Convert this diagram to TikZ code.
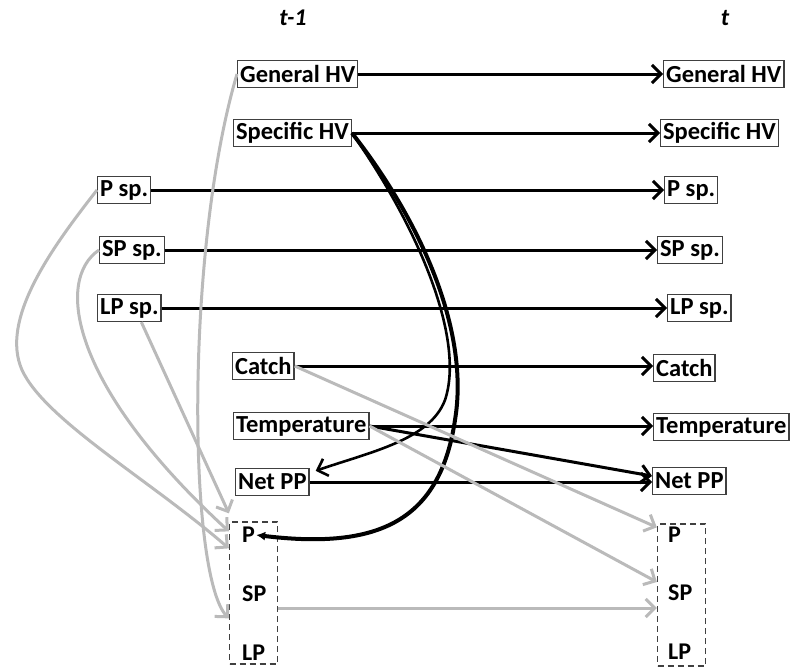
\documentclass[tikz,border=0pt]{standalone}
\usepackage{fontspec}
\setmainfont{Carlito}
\usetikzlibrary{arrows.meta,positioning}

\tikzset{
    var/.style={draw=black!75,line width=1.3pt,anchor=west,inner xsep=2.5pt,
        inner ysep=2pt,minimum height=27pt,
        font=\fontsize{24.5}{28}\selectfont\bfseries},
    slice/.style={draw=black!75,line width=1.3pt,dash pattern=on 6pt off 4pt,
        minimum width=48pt,minimum height=142pt,inner sep=0pt},
    pool/.style={anchor=west,inner sep=1pt,
        font=\fontsize{24}{28}\selectfont\bfseries},
    stamp/.style={font=\fontsize{24}{28}\selectfont\bfseries\itshape},
    link/.style={line width=3pt,-{Straight Barb[length=9pt,width=18pt]}},
    weak/.style={link,draw=black!27},
}

\begin{document}
\begin{tikzpicture}[x=1pt,y=-1pt]
    \useasboundingbox (0,0) rectangle (792,669);

    % time slices
    \node[stamp] (tprev) at (293,18) {t-1};
    \node[stamp] (tnow)  at (725,18) {t};

    % variables at t-1
    \node[var] (GHV-l)   at (237,74)  {General HV};
    \node[var] (SHV-l)   at (233,133) {Specific HV};
    \node[var] (Psp-l)   at (97,190)  {P sp.};
    \node[var] (SPsp-l)  at (99,250)  {SP sp.};
    \node[var] (LPsp-l)  at (97,308)  {LP sp.};
    \node[var] (Catch-l) at (232,366) {Catch};
    \node[var] (Temp-l)  at (233,426) {Temperature};
    \node[var] (NPP-l)   at (235,482) {Net PP};

    % variables at t
    \node[var] (GHV-r)   at (663,74)  {General HV};
    \node[var] (SHV-r)   at (660,133) {Specific HV};
    \node[var] (Psp-r)   at (664,190) {P sp.};
    \node[var] (SPsp-r)  at (657,250) {SP sp.};
    \node[var] (LPsp-r)  at (667,308) {LP sp.};
    \node[var] (Catch-r) at (653,368) {Catch};
    \node[var] (Temp-r)  at (653,427) {Temperature};
    \node[var] (NPP-r)   at (652,481) {Net PP};

    % plankton pools
    \node[slice] (box-l) at (253.5,593) {};
    \node[pool] (P-l)  at (241,535) {P};
    \node[pool] (SP-l) at (241,594) {SP};
    \node[pool] (LP-l) at (241,653) {LP};
    \node[slice] (box-r) at (681.5,595) {};
    \node[pool] (P-r)  at (667,535) {P};
    \node[pool] (SP-r) at (667,593) {SP};
    \node[pool] (LP-r) at (667,652) {LP};

    % persistence from t-1 to t
    \foreach \v in {GHV,SHV,Psp,SPsp,LPsp,Catch,Temp,NPP}
        \draw[link] (\v-l.east) -- (\v-l.east -| \v-r.west);
    \draw[link] (Temp-l.east) -- ([yshift=5pt]NPP-r.west);

    % effects of harvest
    \draw[link,line width=2.6pt] (SHV-l.east)
        .. controls (420,230) and (465,340) .. (445,400)
        .. controls (430,440) and (370,452) .. ([xshift=6pt,yshift=-3pt]NPP-l.north east);
    \draw[line width=4pt,-{Latex[length=9pt,width=9pt]}] (SHV-l.east)
        .. controls (420,220) and (470,330) .. (455,420)
        .. controls (440,520) and (380,550) .. (P-l.east);

    % grey links into the pools
    \draw[weak] (Catch-l.east) -- ([yshift=-4pt]box-r.north west);
    \draw[weak] (Temp-l.east) -- ([yshift=13pt]box-r.west);
    \draw[weak] ([yshift=-15pt]box-l.east) -- ([yshift=-15pt]box-l.east -| box-r.west);
    \draw[weak] ([xshift=12pt]LPsp-l.south) -- ([yshift=8pt]box-l.north west);
    \draw[weak] (SPsp-l.west) .. controls (55,280) and (70,385) .. ([yshift=-10pt]box-l.north west);
    \draw[weak] (Psp-l.west) .. controls (50,250) and (0,320) .. (22,370)
        .. controls (45,420) and (150,480) .. ([yshift=-27pt]box-l.north west);
    \draw[weak] (GHV-l.west) .. controls (185,250) and (188,575) .. ([yshift=-97pt]box-l.north west);
\end{tikzpicture}
\end{document}
